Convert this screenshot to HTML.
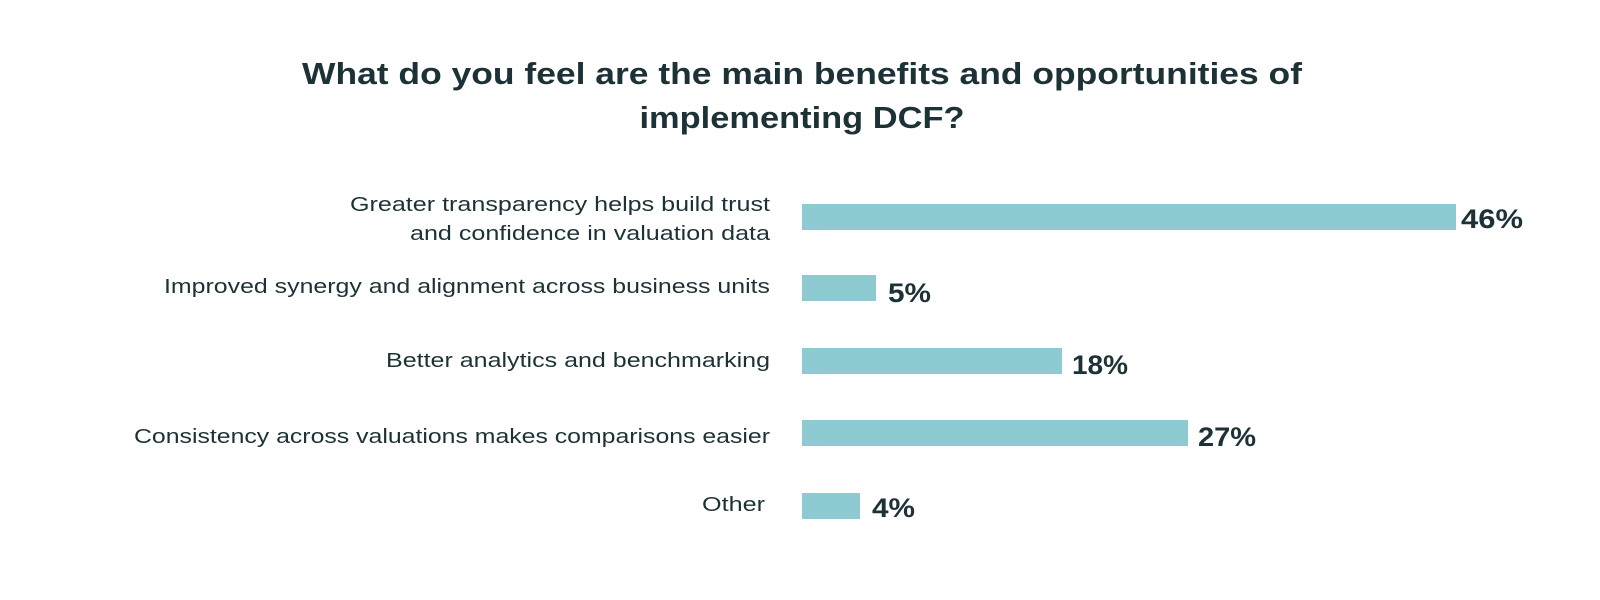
<!DOCTYPE html>
<html><head><style>html,body{margin:0;padding:0;background:#fff;}svg{display:block;}</style></head>
<body>
<svg width="1600" height="600" xmlns="http://www.w3.org/2000/svg" font-family="Liberation Sans, sans-serif">
<g fill="#1d3236" font-weight="bold" font-size="31" text-anchor="middle">
<text x="802" y="84" textLength="1000" lengthAdjust="spacingAndGlyphs">What do you feel are the main benefits and opportunities of</text>
<text x="802" y="128" textLength="325" lengthAdjust="spacingAndGlyphs">implementing DCF?</text>
</g>
<g fill="#8ecad1">
<rect x="802" y="204" width="654" height="26"/>
<rect x="802" y="275" width="74" height="26"/>
<rect x="802" y="348" width="260" height="26"/>
<rect x="802" y="420" width="386" height="26"/>
<rect x="802" y="493" width="58" height="26"/>
</g>
<g fill="#1d3236" font-size="20" text-anchor="end">
<text x="770" y="211" textLength="420" lengthAdjust="spacingAndGlyphs">Greater transparency helps build trust</text>
<text x="770" y="240" textLength="360" lengthAdjust="spacingAndGlyphs">and confidence in valuation data</text>
<text x="770" y="293" textLength="606" lengthAdjust="spacingAndGlyphs">Improved synergy and alignment across business units</text>
<text x="770" y="367" textLength="384" lengthAdjust="spacingAndGlyphs">Better analytics and benchmarking</text>
<text x="770" y="443" textLength="636" lengthAdjust="spacingAndGlyphs">Consistency across valuations makes comparisons easier</text>
<text x="765" y="511" textLength="63" lengthAdjust="spacingAndGlyphs">Other</text>
</g>
<g fill="#1d3236" font-size="27" font-weight="bold">
<text x="1461" y="228" textLength="62" lengthAdjust="spacingAndGlyphs">46%</text>
<text x="888" y="302" textLength="43" lengthAdjust="spacingAndGlyphs">5%</text>
<text x="1072" y="374" textLength="56" lengthAdjust="spacingAndGlyphs">18%</text>
<text x="1198" y="446" textLength="58" lengthAdjust="spacingAndGlyphs">27%</text>
<text x="872" y="517" textLength="43" lengthAdjust="spacingAndGlyphs">4%</text>
</g>
</svg>
</body></html>
